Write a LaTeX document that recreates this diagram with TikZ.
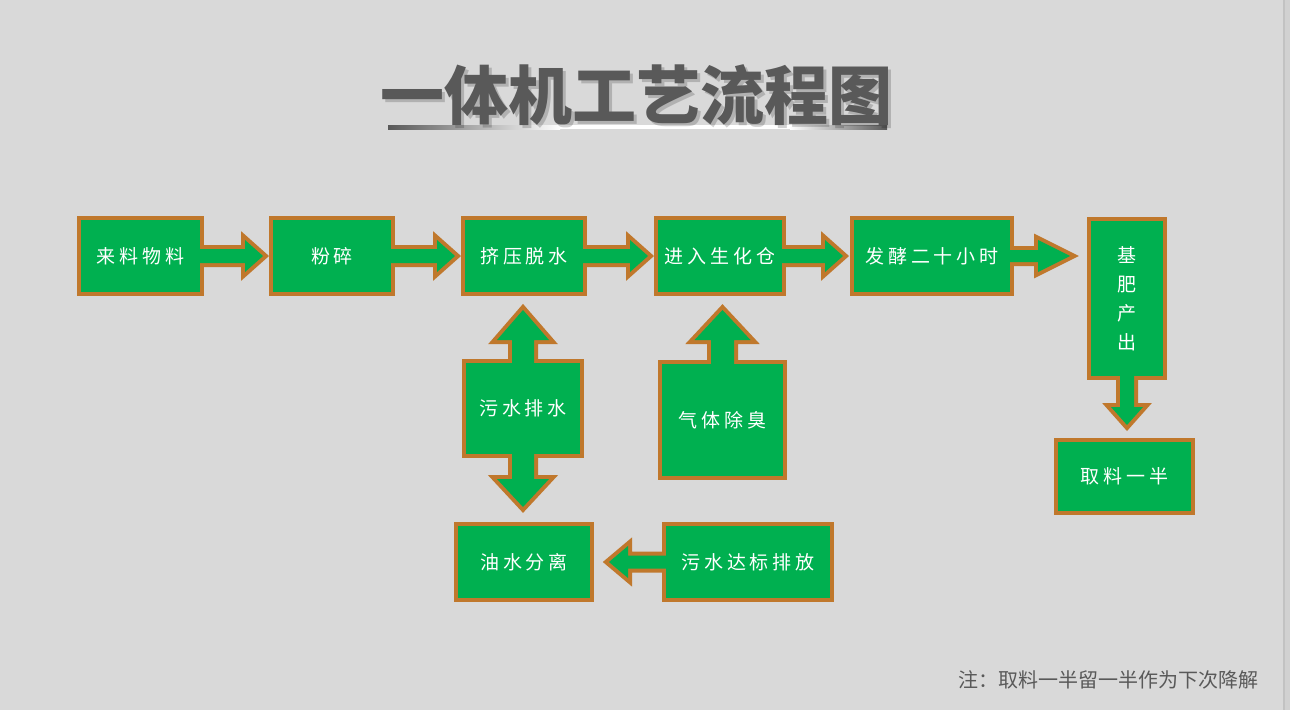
\documentclass[tikz,border=0pt]{standalone}
\usepackage{fontspec}
\usetikzlibrary{calc,backgrounds}
\newfontfamily\cjk{Noto Sans CJK SC}
\newfontfamily\boxfont[LetterSpace=20]{Noto Sans CJK SC}
\definecolor{bg}{HTML}{D9D9D9}
\definecolor{boxgreen}{HTML}{00B050}
\definecolor{boxrim}{HTML}{C0782C}
\definecolor{ink}{HTML}{595959}
% block arrow: style, from, to, gap, shaft half, head half, head length
\newcommand\blockarr[7]{%
  \path (#2) coordinate (bs) (#3) coordinate (bt);
  \path ($(bt)!#4!(bs)$) coordinate (tp);
  \path ($(tp)!#7!(bs)$) coordinate (hb);
  \path ($(bs)!-8pt!(bt)$) coordinate (ss);
  \path[#1] ($(ss)!#5!90:(tp)$) -- ($(hb)!#5!90:(tp)$) -- ($(hb)!#6!90:(tp)$)
    -- (tp) -- ($(hb)!#6!-90:(tp)$) -- ($(hb)!#5!-90:(tp)$) -- ($(ss)!#5!-90:(tp)$) -- cycle;
}
\begin{document}
\begin{tikzpicture}
  [x=1pt,y=-1pt,
   box/.style 2 args={fill=boxgreen,minimum width=#1,minimum height=#2,
     inner sep=0pt,outer sep=0pt,text=white,font=\boxfont\fontsize{19}{29}\selectfont},
   rim/.style={draw=boxrim,line width=8pt},
   arrline/.style={draw=boxrim,fill=boxgreen,line width=8pt},
   arrfill/.style={fill=boxgreen},
   titletext/.style={font=\cjk\bfseries\fontsize{64}{64}\selectfont}]
  \useasboundingbox (0,0) rectangle (1290,710);

  % boxes
  \node[box={119pt}{72pt}] (feed) at (140.5,256) {来料物料};
  \node[box={118pt}{72pt}] (crush) at (332,256) {粉碎};
  \node[box={118pt}{72pt}] (press) at (524,256) {挤压脱水};
  \node[box={124pt}{72pt}] (tank) at (720,256) {进入生化仓};
  \node[box={156pt}{72pt}] (ferment) at (932,256) {发酵二十小时};
  \node[box={72pt}{155pt},align=center] (base) at (1127,298.5) {基\\肥\\产\\出};
  \node[box={133pt}{69pt}] (half) at (1124.5,476.5) {取料一半};
  \node[box={114pt}{91pt}] (sewage) at (523,408.5) {污水排水};
  \node[box={121pt}{112pt}] (deodor) at (722.5,420) {气体除臭};
  \node[box={132pt}{72pt}] (oilsep) at (524,562) {油水分离};
  \node[box={164pt}{72pt}] (outlet) at (748,562) {污水达标排放};

  \coordinate (fb) at (ferment.east -| base.west);
  \coordinate (bh) at (base.south |- half.north);
  \coordinate (sp) at (sewage.north |- press.south);
  \coordinate (so) at (sewage.south |- oilsep.north);
  \coordinate (dt) at (deodor.north |- tank.south);

  \begin{scope}[on background layer]
    \fill[bg] (0,0) rectangle (1290,710);
    \fill[black!18] (1283,0) rectangle (1290,710);
    \fill[black!24] (1283,0) rectangle (1285,710);
    \foreach \n in {feed,crush,press,tank,ferment,base,half,sewage,deodor,oilsep,outlet}
      \draw[rim] (\n.south west) rectangle (\n.north east);
    \foreach \s/\t/\g/\a/\b/\c in {feed.east/crush.west/10pt/7pt/16pt/18pt,
        crush.east/press.west/10pt/7pt/16pt/18pt,
        press.east/tank.west/10pt/7pt/16pt/18pt,
        tank.east/ferment.west/11pt/7pt/16pt/18pt,
        ferment.east/fb/21pt/6pt/16pt/32pt,
        base.south/bh/17pt/7pt/16pt/18pt,
        sewage.north/sp/18pt/11pt/26pt/30pt,
        sewage.south/so/19pt/11pt/26pt/28pt,
        deodor.north/dt/18pt/11.5pt/28pt/30pt,
        outlet.west/oilsep.east/19pt/6.5pt/16pt/19pt}
      {\blockarr{arrline}{\s}{\t}{\g}{\a}{\b}{\c}}
  \end{scope}
  \foreach \s/\t/\g/\a/\b/\c in {feed.east/crush.west/10pt/7pt/16pt/18pt,
      crush.east/press.west/10pt/7pt/16pt/18pt,
      press.east/tank.west/10pt/7pt/16pt/18pt,
      tank.east/ferment.west/11pt/7pt/16pt/18pt,
      ferment.east/fb/21pt/6pt/16pt/32pt,
      base.south/bh/17pt/7pt/16pt/18pt,
      sewage.north/sp/18pt/11pt/26pt/30pt,
      sewage.south/so/19pt/11pt/26pt/28pt,
      deodor.north/dt/18pt/11.5pt/28pt/30pt,
      outlet.west/oilsep.east/19pt/6.5pt/16pt/19pt}
    {\blockarr{arrfill}{\s}{\t}{\g}{\a}{\b}{\c}}

  % title
  \shade[left color=ink,right color=white] (388,125) rectangle (560,129);
  \fill[white] (560,125) rectangle (790,129);
  \shade[left color=white,right color=ink] (790,125) rectangle (887,129);
  \node[titletext,text=black,opacity=.18] (titleshadow) at (639.5,98.5) {一体机工艺流程图};
  \node[titletext,text=ink] (title) at (636.5,95) {一体机工艺流程图};

  \node[anchor=east,text=ink,font=\cjk\fontsize{20}{20}\selectfont] (note) at (1262,680) {注：取料一半留一半作为下次降解};
\end{tikzpicture}
\end{document}
